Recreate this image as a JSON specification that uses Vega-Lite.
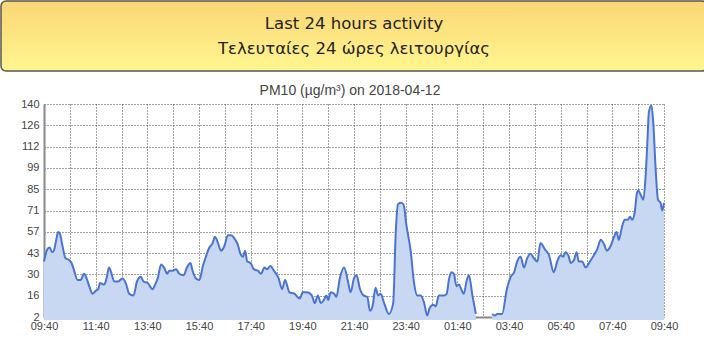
{
  "$schema": "https://vega.github.io/schema/vega-lite/v6.json",
  "padding": 0,
  "spacing": 33,
  "center": true,
  "bounds": "flush",
  "config": {
    "view": {"stroke": null},
    "font": "Liberation Sans",
    "axis": {"labelFont": "Liberation Sans", "labelFontSize": 11, "labelColor": "#444", "ticks": false, "title": null}
  },
  "datasets": {
    "pm10": [
      {"t": "2018-04-11 09:40", "v": 38}, {"t": "2018-04-11 09:48", "v": 46}, {"t": "2018-04-11 09:53", "v": 47},
      {"t": "2018-04-11 09:59", "v": 44}, {"t": "2018-04-11 10:03", "v": 45}, {"t": "2018-04-11 10:07", "v": 50},
      {"t": "2018-04-11 10:13", "v": 57}, {"t": "2018-04-11 10:17", "v": 56}, {"t": "2018-04-11 10:23", "v": 48},
      {"t": "2018-04-11 10:30", "v": 40}, {"t": "2018-04-11 10:38", "v": 39}, {"t": "2018-04-11 10:44", "v": 37},
      {"t": "2018-04-11 10:50", "v": 32}, {"t": "2018-04-11 10:58", "v": 26}, {"t": "2018-04-11 11:05", "v": 26},
      {"t": "2018-04-11 11:13", "v": 30}, {"t": "2018-04-11 11:19", "v": 27}, {"t": "2018-04-11 11:25", "v": 22},
      {"t": "2018-04-11 11:33", "v": 17}, {"t": "2018-04-11 11:40", "v": 19}, {"t": "2018-04-11 11:46", "v": 20},
      {"t": "2018-04-11 11:50", "v": 24}, {"t": "2018-04-11 12:00", "v": 23}, {"t": "2018-04-11 12:06", "v": 28},
      {"t": "2018-04-11 12:11", "v": 34}, {"t": "2018-04-11 12:17", "v": 30}, {"t": "2018-04-11 12:23", "v": 25},
      {"t": "2018-04-11 12:32", "v": 25}, {"t": "2018-04-11 12:42", "v": 27}, {"t": "2018-04-11 12:50", "v": 24},
      {"t": "2018-04-11 12:58", "v": 17}, {"t": "2018-04-11 13:08", "v": 16}, {"t": "2018-04-11 13:16", "v": 25},
      {"t": "2018-04-11 13:25", "v": 28}, {"t": "2018-04-11 13:31", "v": 25}, {"t": "2018-04-11 13:41", "v": 24},
      {"t": "2018-04-11 13:52", "v": 20}, {"t": "2018-04-11 13:58", "v": 23}, {"t": "2018-04-11 14:04", "v": 27},
      {"t": "2018-04-11 14:12", "v": 36}, {"t": "2018-04-11 14:19", "v": 34}, {"t": "2018-04-11 14:26", "v": 30},
      {"t": "2018-04-11 14:31", "v": 32}, {"t": "2018-04-11 14:39", "v": 32}, {"t": "2018-04-11 14:47", "v": 33},
      {"t": "2018-04-11 14:54", "v": 30}, {"t": "2018-04-11 15:04", "v": 29}, {"t": "2018-04-11 15:12", "v": 34},
      {"t": "2018-04-11 15:20", "v": 37}, {"t": "2018-04-11 15:25", "v": 32}, {"t": "2018-04-11 15:33", "v": 27},
      {"t": "2018-04-11 15:41", "v": 26}, {"t": "2018-04-11 15:49", "v": 35}, {"t": "2018-04-11 15:56", "v": 41},
      {"t": "2018-04-11 16:04", "v": 47}, {"t": "2018-04-11 16:12", "v": 50}, {"t": "2018-04-11 16:17", "v": 54},
      {"t": "2018-04-11 16:24", "v": 50}, {"t": "2018-04-11 16:31", "v": 45}, {"t": "2018-04-11 16:39", "v": 48},
      {"t": "2018-04-11 16:47", "v": 55}, {"t": "2018-04-11 16:55", "v": 55}, {"t": "2018-04-11 17:02", "v": 53},
      {"t": "2018-04-11 17:10", "v": 49}, {"t": "2018-04-11 17:16", "v": 43}, {"t": "2018-04-11 17:22", "v": 41},
      {"t": "2018-04-11 17:27", "v": 45}, {"t": "2018-04-11 17:32", "v": 38}, {"t": "2018-04-11 17:40", "v": 37},
      {"t": "2018-04-11 17:47", "v": 33}, {"t": "2018-04-11 17:57", "v": 32}, {"t": "2018-04-11 18:04", "v": 30},
      {"t": "2018-04-11 18:12", "v": 34}, {"t": "2018-04-11 18:18", "v": 33}, {"t": "2018-04-11 18:26", "v": 35},
      {"t": "2018-04-11 18:34", "v": 32}, {"t": "2018-04-11 18:39", "v": 30}, {"t": "2018-04-11 18:45", "v": 27},
      {"t": "2018-04-11 18:53", "v": 20}, {"t": "2018-04-11 19:00", "v": 26}, {"t": "2018-04-11 19:05", "v": 22},
      {"t": "2018-04-11 19:10", "v": 18}, {"t": "2018-04-11 19:22", "v": 17}, {"t": "2018-04-11 19:34", "v": 14},
      {"t": "2018-04-11 19:41", "v": 18}, {"t": "2018-04-11 19:51", "v": 18}, {"t": "2018-04-11 20:02", "v": 16},
      {"t": "2018-04-11 20:09", "v": 11}, {"t": "2018-04-11 20:16", "v": 16}, {"t": "2018-04-11 20:23", "v": 11},
      {"t": "2018-04-11 20:30", "v": 13}, {"t": "2018-04-11 20:36", "v": 16}, {"t": "2018-04-11 20:40", "v": 13},
      {"t": "2018-04-11 20:46", "v": 18}, {"t": "2018-04-11 20:54", "v": 17}, {"t": "2018-04-11 20:59", "v": 15},
      {"t": "2018-04-11 21:07", "v": 27}, {"t": "2018-04-11 21:17", "v": 34}, {"t": "2018-04-11 21:26", "v": 25},
      {"t": "2018-04-11 21:32", "v": 18}, {"t": "2018-04-11 21:40", "v": 27}, {"t": "2018-04-11 21:46", "v": 29},
      {"t": "2018-04-11 21:54", "v": 20}, {"t": "2018-04-11 22:02", "v": 16}, {"t": "2018-04-11 22:11", "v": 15},
      {"t": "2018-04-11 22:17", "v": 6}, {"t": "2018-04-11 22:23", "v": 9}, {"t": "2018-04-11 22:30", "v": 21},
      {"t": "2018-04-11 22:36", "v": 16}, {"t": "2018-04-11 22:42", "v": 17}, {"t": "2018-04-11 22:50", "v": 11},
      {"t": "2018-04-11 23:01", "v": 4}, {"t": "2018-04-11 23:11", "v": 11}, {"t": "2018-04-11 23:17", "v": 57},
      {"t": "2018-04-11 23:22", "v": 75}, {"t": "2018-04-11 23:28", "v": 76}, {"t": "2018-04-11 23:35", "v": 75},
      {"t": "2018-04-11 23:42", "v": 61}, {"t": "2018-04-11 23:52", "v": 44}, {"t": "2018-04-11 23:59", "v": 25},
      {"t": "2018-04-12 00:07", "v": 16}, {"t": "2018-04-12 00:15", "v": 16}, {"t": "2018-04-12 00:23", "v": 11},
      {"t": "2018-04-12 00:30", "v": 3}, {"t": "2018-04-12 00:36", "v": 8}, {"t": "2018-04-12 00:44", "v": 10},
      {"t": "2018-04-12 00:50", "v": 9}, {"t": "2018-04-12 00:57", "v": 16}, {"t": "2018-04-12 01:09", "v": 16},
      {"t": "2018-04-12 01:15", "v": 17}, {"t": "2018-04-12 01:21", "v": 27}, {"t": "2018-04-12 01:26", "v": 31},
      {"t": "2018-04-12 01:32", "v": 30}, {"t": "2018-04-12 01:38", "v": 22}, {"t": "2018-04-12 01:44", "v": 23},
      {"t": "2018-04-12 01:49", "v": 20}, {"t": "2018-04-12 01:55", "v": 17}, {"t": "2018-04-12 02:02", "v": 26},
      {"t": "2018-04-12 02:07", "v": 29}, {"t": "2018-04-12 02:15", "v": 16}, {"t": "2018-04-12 02:23", "v": 4},
      {"t": "2018-04-12 02:40", "v": null},
      {"t": "2018-04-12 03:01", "v": 4}, {"t": "2018-04-12 03:07", "v": 3}, {"t": "2018-04-12 03:13", "v": 4},
      {"t": "2018-04-12 03:24", "v": 4}, {"t": "2018-04-12 03:35", "v": 20}, {"t": "2018-04-12 03:44", "v": 28},
      {"t": "2018-04-12 03:52", "v": 31}, {"t": "2018-04-12 03:59", "v": 38}, {"t": "2018-04-12 04:07", "v": 41},
      {"t": "2018-04-12 04:15", "v": 34}, {"t": "2018-04-12 04:22", "v": 40}, {"t": "2018-04-12 04:30", "v": 43},
      {"t": "2018-04-12 04:38", "v": 40}, {"t": "2018-04-12 04:46", "v": 38}, {"t": "2018-04-12 04:53", "v": 50},
      {"t": "2018-04-12 05:03", "v": 46}, {"t": "2018-04-12 05:13", "v": 42}, {"t": "2018-04-12 05:24", "v": 31},
      {"t": "2018-04-12 05:32", "v": 38}, {"t": "2018-04-12 05:40", "v": 42}, {"t": "2018-04-12 05:46", "v": 41},
      {"t": "2018-04-12 05:51", "v": 44}, {"t": "2018-04-12 05:59", "v": 41}, {"t": "2018-04-12 06:03", "v": 37},
      {"t": "2018-04-12 06:11", "v": 39}, {"t": "2018-04-12 06:17", "v": 44}, {"t": "2018-04-12 06:22", "v": 38},
      {"t": "2018-04-12 06:30", "v": 38}, {"t": "2018-04-12 06:38", "v": 34}, {"t": "2018-04-12 06:48", "v": 38},
      {"t": "2018-04-12 06:57", "v": 42}, {"t": "2018-04-12 07:05", "v": 46}, {"t": "2018-04-12 07:13", "v": 52},
      {"t": "2018-04-12 07:21", "v": 49}, {"t": "2018-04-12 07:27", "v": 45}, {"t": "2018-04-12 07:36", "v": 48},
      {"t": "2018-04-12 07:44", "v": 54}, {"t": "2018-04-12 07:50", "v": 57}, {"t": "2018-04-12 07:55", "v": 52},
      {"t": "2018-04-12 08:03", "v": 61}, {"t": "2018-04-12 08:09", "v": 65}, {"t": "2018-04-12 08:16", "v": 65},
      {"t": "2018-04-12 08:21", "v": 67}, {"t": "2018-04-12 08:26", "v": 65}, {"t": "2018-04-12 08:32", "v": 70},
      {"t": "2018-04-12 08:37", "v": 82}, {"t": "2018-04-12 08:40", "v": 84}, {"t": "2018-04-12 08:46", "v": 81},
      {"t": "2018-04-12 08:52", "v": 78}, {"t": "2018-04-12 08:57", "v": 92}, {"t": "2018-04-12 09:01", "v": 113},
      {"t": "2018-04-12 09:05", "v": 135}, {"t": "2018-04-12 09:11", "v": 139}, {"t": "2018-04-12 09:15", "v": 128},
      {"t": "2018-04-12 09:21", "v": 96}, {"t": "2018-04-12 09:26", "v": 78}, {"t": "2018-04-12 09:32", "v": 76},
      {"t": "2018-04-12 09:36", "v": 71}, {"t": "2018-04-12 09:40", "v": 76}
    ]
  },
  "vconcat": [
    {
      "width": 706,
      "height": 70,
      "view": {
        "stroke": "#555",
        "strokeWidth": 1.5,
        "cornerRadius": 5,
        "fill": {"gradient": "linear", "x1": 0, "y1": 0, "x2": 0, "y2": 1,
          "stops": [{"offset": 0, "color": "#fbd675"}, {"offset": 1, "color": "#fff690"}]}
      },
      "data": {"values": [
        {"line": 1, "label": "Last 24 hours activity"},
        {"line": 2, "label": "Τελευταίες 24 ώρες λειτουργίας"}
      ]},
      "mark": {"type": "text", "font": "DejaVu Sans", "fontSize": 16.5, "color": "#222", "baseline": "middle"},
      "encoding": {
        "y": {"field": "line", "type": "ordinal", "axis": null, "scale": {"padding": 0.9}},
        "text": {"field": "label"}
      }
    },
    {
      "width": 620,
      "height": 213,
      "title": {"text": "PM10 (µg/m³) on 2018-04-12", "font": "Liberation Sans", "fontSize": 14, "fontWeight": "normal", "color": "#444", "offset": 0, "dx": -4, "anchor": "middle"},
      "data": {"name": "pm10"},
      "encoding": {
        "x": {
          "field": "t", "type": "temporal",
          "scale": {"domain": [
            {"year": 2018, "month": 4, "date": 11, "hours": 9, "minutes": 40},
            {"year": 2018, "month": 4, "date": 12, "hours": 9, "minutes": 40}
          ]},
          "axis": {
            "values": [
              {"year": 2018, "month": 4, "date": 11, "hours": 9, "minutes": 40},
              {"year": 2018, "month": 4, "date": 11, "hours": 10, "minutes": 40},
              {"year": 2018, "month": 4, "date": 11, "hours": 11, "minutes": 40},
              {"year": 2018, "month": 4, "date": 11, "hours": 12, "minutes": 40},
              {"year": 2018, "month": 4, "date": 11, "hours": 13, "minutes": 40},
              {"year": 2018, "month": 4, "date": 11, "hours": 14, "minutes": 40},
              {"year": 2018, "month": 4, "date": 11, "hours": 15, "minutes": 40},
              {"year": 2018, "month": 4, "date": 11, "hours": 16, "minutes": 40},
              {"year": 2018, "month": 4, "date": 11, "hours": 17, "minutes": 40},
              {"year": 2018, "month": 4, "date": 11, "hours": 18, "minutes": 40},
              {"year": 2018, "month": 4, "date": 11, "hours": 19, "minutes": 40},
              {"year": 2018, "month": 4, "date": 11, "hours": 20, "minutes": 40},
              {"year": 2018, "month": 4, "date": 11, "hours": 21, "minutes": 40},
              {"year": 2018, "month": 4, "date": 11, "hours": 22, "minutes": 40},
              {"year": 2018, "month": 4, "date": 11, "hours": 23, "minutes": 40},
              {"year": 2018, "month": 4, "date": 12, "hours": 0, "minutes": 40},
              {"year": 2018, "month": 4, "date": 12, "hours": 1, "minutes": 40},
              {"year": 2018, "month": 4, "date": 12, "hours": 2, "minutes": 40},
              {"year": 2018, "month": 4, "date": 12, "hours": 3, "minutes": 40},
              {"year": 2018, "month": 4, "date": 12, "hours": 4, "minutes": 40},
              {"year": 2018, "month": 4, "date": 12, "hours": 5, "minutes": 40},
              {"year": 2018, "month": 4, "date": 12, "hours": 6, "minutes": 40},
              {"year": 2018, "month": 4, "date": 12, "hours": 7, "minutes": 40},
              {"year": 2018, "month": 4, "date": 12, "hours": 8, "minutes": 40},
              {"year": 2018, "month": 4, "date": 12, "hours": 9, "minutes": 40}
            ],
            "labelExpr": "hours(datum.value) % 2 == 1 ? timeFormat(datum.value, '%H:%M') : ''",
            "labelOverlap": false,
            "labelFlush": false,
            "labelPadding": 3,
            "domainColor": "#888",
            "domainWidth": 2,
            "grid": true,
            "gridColor": "#444",
            "gridDash": [1, 2],
            "gridWidth": 1
          }
        },
        "y": {
          "field": "v", "type": "quantitative",
          "scale": {"domain": [2, 140], "zero": false, "nice": false},
          "axis": {
            "values": [2, 15.8, 29.6, 43.4, 57.2, 71, 84.8, 98.6, 112.4, 126.2, 140],
            "format": ".0f",
            "labelPadding": 5,
            "domainColor": "#888",
            "domainWidth": 2,
            "grid": true,
            "gridColor": "#444",
            "gridDash": [1, 2],
            "gridWidth": 1
          }
        }
      },
      "layer": [
        {"mark": {"type": "area", "color": "#c9d8f2", "opacity": 1, "interpolate": "monotone", "invalid": "break-paths-show-domains"}},
        {"mark": {"type": "line", "color": "#4a73d2", "strokeWidth": 2, "interpolate": "monotone", "invalid": "break-paths-show-domains"}}
      ]
    }
  ]
}
